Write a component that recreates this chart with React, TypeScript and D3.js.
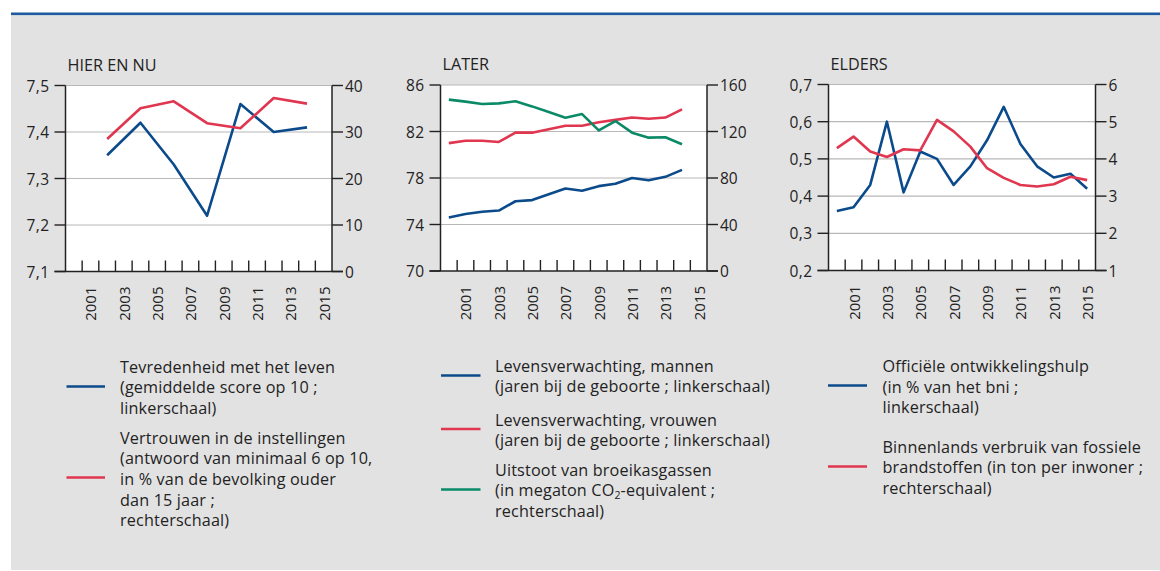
import React from "react";
import * as d3 from "d3";

// ---------- DATA ----------
const bandYears = [2000, 2001, 2002, 2003, 2004, 2005, 2006, 2007, 2008, 2009, 2010, 2011, 2012, 2013, 2014, 2015];
const yearLabels = [2001, 2003, 2005, 2007, 2009, 2011, 2013, 2015];

// Panel 1: HIER EN NU
const hierYears = [2002, 2004, 2006, 2008, 2010, 2012, 2014];
const tevredenheid = [7.35, 7.42, 7.33, 7.22, 7.46, 7.4, 7.41];
const vertrouwen = [28.5, 35.1, 36.6, 31.9, 30.8, 37.3, 36.1];
const hierLeftTicks = [7.1, 7.2, 7.3, 7.4, 7.5];
const hierRightTicks = [0, 10, 20, 30, 40];

// Panel 2: LATER
const laterYears = [2000, 2001, 2002, 2003, 2004, 2005, 2006, 2007, 2008, 2009, 2010, 2011, 2012, 2013, 2014];
const levensMannen = [74.6, 74.9, 75.1, 75.2, 76.0, 76.1, 76.6, 77.1, 76.9, 77.3, 77.5, 78.0, 77.8, 78.1, 78.7];
const levensVrouwen = [81.0, 81.2, 81.2, 81.1, 81.9, 81.9, 82.2, 82.5, 82.5, 82.8, 83.0, 83.2, 83.1, 83.2, 83.9];
const uitstoot = [147.4, 145.7, 143.7, 144.2, 146.0, 141.6, 136.8, 131.9, 135.0, 121.0, 129.0, 119.0, 114.7, 115.0, 109.0];
const laterLeftTicks = [70, 74, 78, 82, 86];
const laterRightTicks = [0, 40, 80, 120, 160];

// Panel 3: ELDERS
const eldersYears = [2000, 2001, 2002, 2003, 2004, 2005, 2006, 2007, 2008, 2009, 2010, 2011, 2012, 2013, 2014, 2015];
const ontwikkelingshulp = [0.36, 0.37, 0.43, 0.6, 0.41, 0.52, 0.5, 0.43, 0.48, 0.55, 0.64, 0.54, 0.48, 0.45, 0.46, 0.42];
const fossiel = [4.29, 4.6, 4.2, 4.05, 4.26, 4.23, 5.05, 4.74, 4.33, 3.75, 3.49, 3.3, 3.26, 3.32, 3.52, 3.43];
const eldersLeftTicks = [0.2, 0.3, 0.4, 0.5, 0.6, 0.7];
const eldersRightTicks = [1, 2, 3, 4, 5, 6];

// ---------- STYLE ----------
const BLUE = "#0b4a8b";
const RED = "#e0364f";
const GREEN = "#0a8a66";
const TEXT = "#222";
const FONT = "'Open Sans', 'Noto Sans', sans-serif";

const fmt = (d: number, digits: number) => d3.format(`.${digits}f`)(d).replace(".", ",");

type Series = { years: number[]; values: number[]; color: string; axis: "left" | "right" };

type PanelProps = {
  title: string;
  left: number;
  right: number;
  top: number;
  bottom: number;
  leftDomain: [number, number];
  rightDomain: [number, number];
  leftTicks: number[];
  rightTicks: number[];
  leftDigits: number;
  series: Series[];
};

function Panel(p: PanelProps) {
  const x = d3.scaleBand<number>().domain(bandYears).range([p.left, p.right]).padding(0);
  const cx = (yr: number) => (x(yr) as number) + x.bandwidth() / 2;
  const yL = d3.scaleLinear().domain(p.leftDomain).range([p.bottom, p.top]);
  const yR = d3.scaleLinear().domain(p.rightDomain).range([p.bottom, p.top]);
  return (
    <g>
      <text x={p.left + 2} y={p.top - 21} fontSize={16.2} fill={TEXT} dominantBaseline="central">
        {p.title}
      </text>
      <rect x={p.left} y={p.top} width={p.right - p.left} height={p.bottom - p.top} fill="#fff" />
      {p.leftTicks.slice(1).map((t) => (
        <line key={"g" + t} x1={p.left} x2={p.right} y1={yL(t)} y2={yL(t)} stroke="#b8b8b8" strokeWidth={1.2} />
      ))}
      {bandYears.slice(1).map((yr) => (
        <line key={"xt" + yr} x1={x(yr)} x2={x(yr)} y1={p.bottom} y2={p.bottom - 11} stroke={TEXT} strokeWidth={1.4} />
      ))}
      {p.series.map((s, i) => {
        const yS = s.axis === "left" ? yL : yR;
        const line = d3
          .line<number>()
          .x((_, j) => cx(s.years[j]))
          .y((v) => yS(v));
        return (
          <path key={i} d={line(s.values) || ""} fill="none" stroke={s.color} strokeWidth={2.6} strokeLinejoin="round" />
        );
      })}
      <line x1={p.left} x2={p.left} y1={p.top} y2={p.bottom} stroke={TEXT} strokeWidth={1.5} />
      <line x1={p.right} x2={p.right} y1={p.top} y2={p.bottom} stroke={TEXT} strokeWidth={1.5} />
      <line x1={p.left - 11} x2={p.right + 11} y1={p.bottom} y2={p.bottom} stroke={TEXT} strokeWidth={1.5} />
      {p.leftTicks.map((t) => (
        <g key={"lt" + t}>
          <line x1={p.left - 11} x2={p.left} y1={yL(t)} y2={yL(t)} stroke={TEXT} strokeWidth={1.4} />
          <text x={p.left - 16} y={yL(t)} textAnchor="end" dominantBaseline="central" fontSize={15.5} letterSpacing={0.4} fill={TEXT}>
            {fmt(t, p.leftDigits)}
          </text>
        </g>
      ))}
      {p.rightTicks.map((t) => (
        <g key={"rt" + t}>
          <line x1={p.right} x2={p.right + 11} y1={yR(t)} y2={yR(t)} stroke={TEXT} strokeWidth={1.4} />
          <text x={p.right + 13} y={yR(t)} textAnchor="start" dominantBaseline="central" fontSize={15.5} fill={TEXT}>
            {String(t)}
          </text>
        </g>
      ))}
      {yearLabels.map((yr) => (
        <text
          key={"yl" + yr}
          transform={`translate(${cx(yr)},${p.bottom + 15}) rotate(-90)`}
          textAnchor="end"
          dominantBaseline="central"
          fontSize={15}
          fill={TEXT}
        >
          {yr}
        </text>
      ))}
    </g>
  );
}

type LegendItem = { color: string; lineY: number; lines: React.ReactNode[]; textY: number };

function Legend({ x1, x2, tx, items }: { x1: number; x2: number; tx: number; items: LegendItem[] }) {
  return (
    <g>
      {items.map((it, i) => (
        <g key={i}>
          <line x1={x1} x2={x2} y1={it.lineY} y2={it.lineY} stroke={it.color} strokeWidth={2.6} />
          {it.lines.map((ln, j) => (
            <text key={j} x={tx} y={it.textY + j * 20.7} fontSize={16.2} letterSpacing={0.15} fill={TEXT} dominantBaseline="central">
              {ln}
            </text>
          ))}
        </g>
      ))}
    </g>
  );
}

export default function App() {
  return (
    <svg
      width={1160}
      height={571}
      style={{ position: "absolute", left: 0, top: 0, fontFamily: FONT }}
    >
      <rect x={0} y={0} width={1160} height={571} fill="#fff" />
      <rect x={11} y={15} width={1149} height={555} fill="#e2e2e2" />
      <rect x={11} y={12.5} width={1149} height={2.6} fill="#1d5aa0" />

      <Panel
        title="HIER EN NU"
        left={65.5}
        right={332}
        top={85.5}
        bottom={271.5}
        leftDomain={[7.1, 7.5]}
        rightDomain={[0, 40]}
        leftTicks={hierLeftTicks}
        rightTicks={hierRightTicks}
        leftDigits={1}
        series={[
          { years: hierYears, values: tevredenheid, color: BLUE, axis: "left" },
          { years: hierYears, values: vertrouwen, color: RED, axis: "right" },
        ]}
      />
      <Panel
        title="LATER"
        left={440.5}
        right={707}
        top={85}
        bottom={271}
        leftDomain={[70, 86]}
        rightDomain={[0, 160]}
        leftTicks={laterLeftTicks}
        rightTicks={laterRightTicks}
        leftDigits={0}
        series={[
          { years: laterYears, values: levensMannen, color: BLUE, axis: "left" },
          { years: laterYears, values: levensVrouwen, color: RED, axis: "left" },
          { years: laterYears, values: uitstoot, color: GREEN, axis: "right" },
        ]}
      />
      <Panel
        title="ELDERS"
        left={828.5}
        right={1095.5}
        top={84.5}
        bottom={270.5}
        leftDomain={[0.2, 0.7]}
        rightDomain={[1, 6]}
        leftTicks={eldersLeftTicks}
        rightTicks={eldersRightTicks}
        leftDigits={1}
        series={[
          { years: eldersYears, values: ontwikkelingshulp, color: BLUE, axis: "left" },
          { years: eldersYears, values: fossiel, color: RED, axis: "right" },
        ]}
      />

      <Legend
        x1={66.5}
        x2={105}
        tx={120}
        items={[
          {
            color: BLUE,
            lineY: 386.5,
            textY: 366.5,
            lines: ["Tevredenheid met het leven", "(gemiddelde score op 10 ;", "linkerschaal)"],
          },
          {
            color: RED,
            lineY: 477.5,
            textY: 437.5,
            lines: [
              "Vertrouwen in de instellingen",
              "(antwoord van minimaal 6 op 10,",
              "in % van de bevolking ouder",
              "dan 15 jaar ;",
              "rechterschaal)",
            ],
          },
        ]}
      />
      <Legend
        x1={441}
        x2={480.5}
        tx={495}
        items={[
          {
            color: BLUE,
            lineY: 375.5,
            textY: 365.5,
            lines: ["Levensverwachting, mannen", "(jaren bij de geboorte ; linkerschaal)"],
          },
          {
            color: RED,
            lineY: 429,
            textY: 419.5,
            lines: ["Levensverwachting, vrouwen", "(jaren bij de geboorte ; linkerschaal)"],
          },
          {
            color: GREEN,
            lineY: 489.5,
            textY: 469.5,
            lines: [
              "Uitstoot van broeikasgassen",
              <>
                (in megaton CO
                <tspan fontSize={10.5} dy={5}>2</tspan>
                <tspan dy={-5}>-equivalent ;</tspan>
              </>,
              "rechterschaal)",
            ],
          },
        ]}
      />
      <Legend
        x1={828}
        x2={867}
        tx={882.5}
        items={[
          {
            color: BLUE,
            lineY: 385.5,
            textY: 366,
            lines: ["Officiële ontwikkelingshulp", "(in % van het bni ;", "linkerschaal)"],
          },
          {
            color: RED,
            lineY: 466.5,
            textY: 446.5,
            lines: ["Binnenlands verbruik van fossiele", "brandstoffen (in ton per inwoner ;", "rechterschaal)"],
          },
        ]}
      />
    </svg>
  );
}
